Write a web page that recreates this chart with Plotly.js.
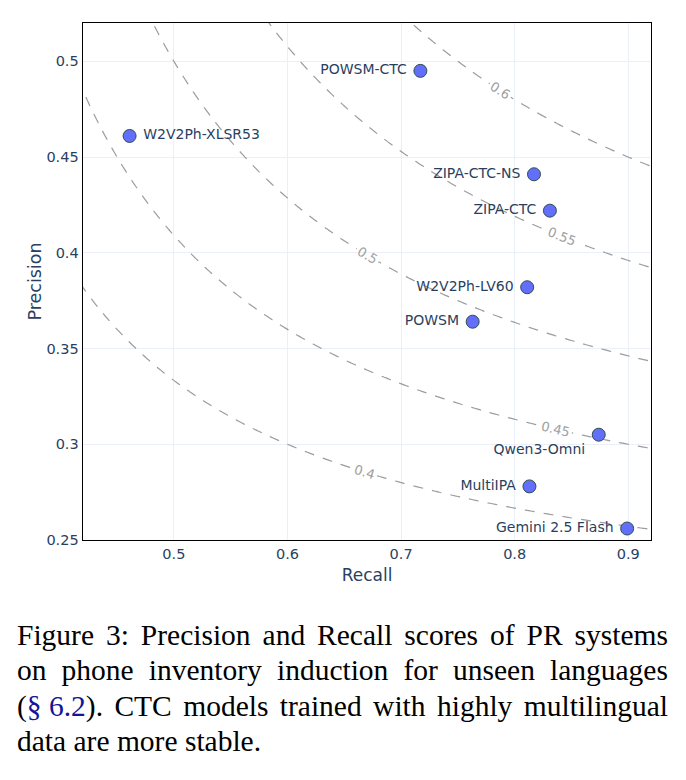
<!DOCTYPE html>
<html>
<head>
<meta charset="utf-8">
<script src="https://cdn.plot.ly/plotly-3.0.1.min.js"></script>
<style>
  html, body { margin: 0; padding: 0; background: #fff; }
  #wrap { position: relative; width: 686px; height: 780px; }
  #chart { position: absolute; left: 0; top: 0; width: 686px; height: 600px; }
  #caption {
    position: absolute; left: 17px; top: 618px; width: 651px;
    font-family: "Liberation Serif", "Times New Roman", serif;
    font-size: 29.5px; line-height: 35.3px; color: #000;
  }
  #caption .line { display: flex; justify-content: space-between; height: 35.3px; white-space: pre; }
  #caption .line.last { justify-content: flex-start; gap: 0.25em; }
  #caption .ref { color: #14149a; }
  #caption .grp { display: inline-flex; }
</style>
</head>
<body>
<div id="wrap">
  <div id="chart"></div>
  <div id="caption"></div>
</div>
<script>
// caption, set line by line and justified word by word
const captionLines = [
  "Figure 3: Precision and Recall scores of PR systems",
  "on phone inventory induction for unseen languages",
  "(§ 6.2). CTC models trained with highly multilingual",
  "data are more stable."
];
const cap = document.getElementById("caption");
captionLines.forEach((ln, k) => {
  const row = document.createElement("div");
  row.className = "line" + (k === captionLines.length - 1 ? " last" : "");
  let words = ln.split(" ");
  if (ln.startsWith("(§")) {
    // keep the section reference together, with the symbol and number in link colour
    const grp = document.createElement("span");
    grp.className = "grp";
    [["(", ""], ["§\u00A06.2", "ref"], [").", ""]].forEach(([t, c]) => {
      const s = document.createElement("span");
      s.textContent = t; if (c) s.className = c;
      grp.appendChild(s);
    });
    row.appendChild(grp);
    words = words.slice(2);
  }
  words.forEach(w => {
    const s = document.createElement("span");
    s.textContent = w;
    row.appendChild(s);
  });
  cap.appendChild(row);
});

// PR systems and their scores
const systems = ["POWSM-CTC", "W2V2Ph-XLSR53", "ZIPA-CTC-NS", "ZIPA-CTC", "W2V2Ph-LV60",
                 "POWSM", "Qwen3-Omni", "MultiIPA", "Gemini 2.5 Flash"];
const recall    = [0.717, 0.461, 0.817, 0.831, 0.811, 0.763, 0.874, 0.813, 0.899];
const precision = [0.495, 0.461, 0.441, 0.422, 0.382, 0.364, 0.305, 0.278, 0.256];
const labelPos  = ["middle left", "middle right", "middle left", "middle left", "middle left",
                   "middle left", "bottom left", "middle left", "middle left"];

// iso-F1 reference levels
const f1Levels = [0.4, 0.45, 0.5, 0.55, 0.6];

// grid of F1 = harmonic mean of precision and recall, for the iso lines
const gridX = [], gridY = [], gridZ = [];
for (let i = 0; i <= 120; i++) gridX.push(0.40 + i * 0.55 / 120);
for (let j = 0; j <= 120; j++) gridY.push(0.24 + j * 0.30 / 120);
for (const p of gridY) {
  gridZ.push(gridX.map(r => 2 * p * r / (p + r)));
}

const font = "DejaVu Sans, Verdana, sans-serif";
const ink = "#2a3f5f";
const pad = "\u00A0";

const isoF1 = {
  type: "contour",
  x: gridX, y: gridY, z: gridZ,
  autocontour: false,
  contours: {
    start: f1Levels[0], end: f1Levels[f1Levels.length - 1],
    size: f1Levels[1] - f1Levels[0],
    coloring: "none", showlabels: true,
    labelfont: { family: font, size: 13, color: "#a0a0a0" }
  },
  line: { color: "#9c9c9c", width: 1.2, dash: "10px,9px" },
  showscale: false, hoverinfo: "skip", showlegend: false
};

const points = {
  type: "scatter", mode: "markers+text",
  x: recall, y: precision,
  text: systems.map((s, i) => labelPos[i].endsWith("left") ? s + pad : pad + s),
  textposition: labelPos,
  textfont: { family: font, size: 14, color: ink },
  marker: { size: 13, color: "#636efa", line: { color: "#2F4F4F", width: 1 } },
  showlegend: false
};

const layout = {
  width: 686, height: 600,
  margin: { l: 83, r: 35, t: 23, b: 60 },
  paper_bgcolor: "#fff", plot_bgcolor: "#fff",
  font: { family: font, size: 14, color: ink },
  showlegend: false,
  xaxis: {
    range: [0.42, 0.92], dtick: 0.1, tick0: 0.5,
    showgrid: true, gridcolor: "#EBF0F8", zeroline: false,
    showline: true, linecolor: "#000", linewidth: 1.4, mirror: true,
    ticks: "", tickfont: { family: font, size: 14.5, color: ink },
    title: { text: "Recall", font: { family: font, size: 17, color: ink }, standoff: 8 }
  },
  yaxis: {
    range: [0.25, 0.52], dtick: 0.05, tick0: 0.25,
    showgrid: true, gridcolor: "#EBF0F8", zeroline: false,
    showline: true, linecolor: "#000", linewidth: 1.4, mirror: true,
    ticks: "", tickfont: { family: font, size: 14.5, color: ink },
    title: { text: "Precision", font: { family: font, size: 17.5, color: ink }, standoff: 0 }
  }
};

Plotly.newPlot("chart", [isoF1, points], layout, { displayModeBar: false, staticPlot: true });
</script>
</body>
</html>
